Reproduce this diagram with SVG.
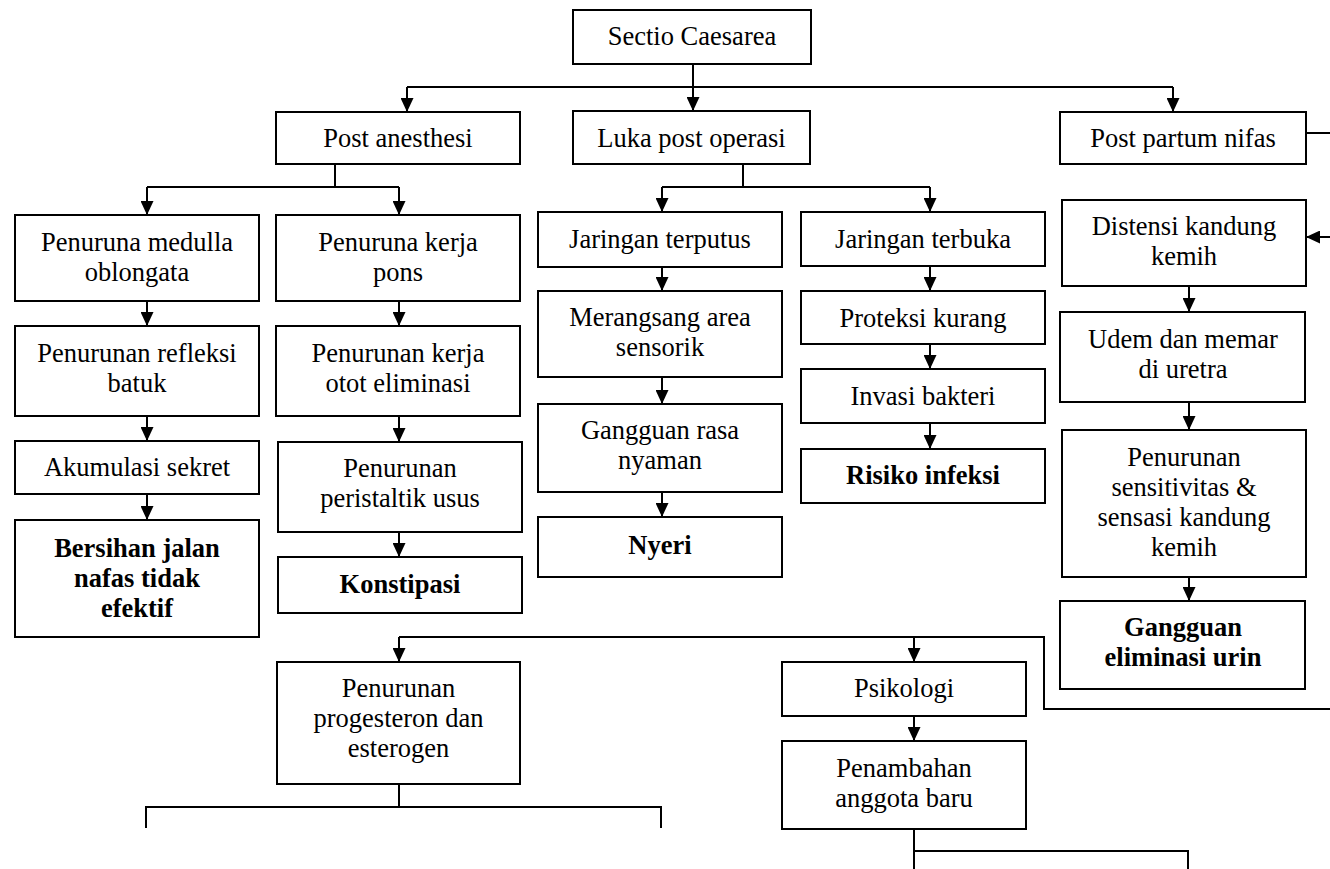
<svg xmlns="http://www.w3.org/2000/svg" width="1330" height="869" viewBox="0 0 1330 869">
<style>
.b{fill:#fff;stroke:#000;stroke-width:2}
.t{font-family:'Liberation Serif','DejaVu Serif',serif;font-size:26.5px;fill:#000;text-anchor:middle}
.bd{font-weight:bold}
.c{fill:none;stroke:#000;stroke-width:2}
</style>
<defs>
<marker id="ar" viewBox="0 0 14 13" refX="14" refY="6.5" markerWidth="14" markerHeight="13" markerUnits="userSpaceOnUse" orient="auto">
<path d="M0,0 L14,6.5 L0,13 z" fill="#000"/>
</marker>
</defs>
<rect width="1330" height="869" fill="#fff"/>
<g id="connectors">
<path class="c" d="M693,64 V87"/>
<path class="c" d="M407,87 H1173"/>
<path class="c" d="M407,87 V112" marker-end="url(#ar)"/>
<path class="c" d="M693,87 V111" marker-end="url(#ar)"/>
<path class="c" d="M1173,87 V112" marker-end="url(#ar)"/>
<path class="c" d="M335,164 V187 M147,187 H399"/>
<path class="c" d="M147,187 V215" marker-end="url(#ar)"/>
<path class="c" d="M399,187 V215" marker-end="url(#ar)"/>
<path class="c" d="M743,164 V187 M662,187 H930"/>
<path class="c" d="M662,187 V212" marker-end="url(#ar)"/>
<path class="c" d="M930,187 V212" marker-end="url(#ar)"/>
<path class="c" d="M147,301 V326" marker-end="url(#ar)"/>
<path class="c" d="M147,416 V441" marker-end="url(#ar)"/>
<path class="c" d="M147,494 V520" marker-end="url(#ar)"/>
<path class="c" d="M399,301 V326" marker-end="url(#ar)"/>
<path class="c" d="M399,416 V442" marker-end="url(#ar)"/>
<path class="c" d="M399,532 V557" marker-end="url(#ar)"/>
<path class="c" d="M662,267 V291" marker-end="url(#ar)"/>
<path class="c" d="M662,377 V404" marker-end="url(#ar)"/>
<path class="c" d="M662,492 V517" marker-end="url(#ar)"/>
<path class="c" d="M930,266 V291" marker-end="url(#ar)"/>
<path class="c" d="M930,344 V369" marker-end="url(#ar)"/>
<path class="c" d="M930,423 V449" marker-end="url(#ar)"/>
<path class="c" d="M1306,133 H1330"/>
<path class="c" d="M1330,237 H1306" marker-end="url(#ar)"/>
<path class="c" d="M1189,286 V312" marker-end="url(#ar)"/>
<path class="c" d="M1189,402 V430" marker-end="url(#ar)"/>
<path class="c" d="M1189,577 V601" marker-end="url(#ar)"/>
<path class="c" d="M1330,709 H1044 V637 H399"/>
<path class="c" d="M399,637 V662" marker-end="url(#ar)"/>
<path class="c" d="M914,637 V662" marker-end="url(#ar)"/>
<path class="c" d="M914,716 V741" marker-end="url(#ar)"/>
<path class="c" d="M399,784 V807 M146,828 V807 H661 V828"/>
<path class="c" d="M914,829 V869 M914,851 H1188 V869"/>
</g>
<g id="n-sectio"><rect class="b" x="573" y="10" width="238" height="54"/><text class="t" x="692" y="45">Sectio Caesarea</text></g>
<g id="n-postanest"><rect class="b" x="276" y="112" width="244" height="52"/><text class="t" x="398" y="147">Post anesthesi</text></g>
<g id="n-luka"><rect class="b" x="573" y="111" width="237" height="53"/><text class="t" x="691.5" y="147">Luka post operasi</text></g>
<g id="n-postpartum"><rect class="b" x="1060" y="112" width="246" height="52"/><text class="t" x="1183" y="147">Post partum nifas</text></g>
<g id="n-medulla"><rect class="b" x="15" y="215" width="244" height="86"/><text class="t" x="137" y="251">Penuruna medulla</text><text class="t" x="137" y="281">oblongata</text></g>
<g id="n-refleksi"><rect class="b" x="15" y="326" width="244" height="90"/><text class="t" x="137" y="362">Penurunan refleksi</text><text class="t" x="137" y="392">batuk</text></g>
<g id="n-akumulasi"><rect class="b" x="15" y="441" width="244" height="53"/><text class="t" x="137" y="476">Akumulasi sekret</text></g>
<g id="n-bersihan"><rect class="b" x="15" y="520" width="244" height="117"/><text class="t bd" x="137" y="557">Bersihan jalan</text><text class="t bd" x="137" y="587">nafas tidak</text><text class="t bd" x="137" y="617">efektif</text></g>
<g id="n-pons"><rect class="b" x="276" y="215" width="244" height="86"/><text class="t" x="398" y="251">Penuruna kerja</text><text class="t" x="398" y="281">pons</text></g>
<g id="n-otot"><rect class="b" x="276" y="326" width="244" height="90"/><text class="t" x="398" y="362">Penurunan kerja</text><text class="t" x="398" y="392">otot eliminasi</text></g>
<g id="n-peristaltik"><rect class="b" x="278" y="442" width="244" height="90"/><text class="t" x="400" y="477">Penurunan</text><text class="t" x="400" y="507">peristaltik usus</text></g>
<g id="n-konstipasi"><rect class="b" x="278" y="557" width="244" height="56"/><text class="t bd" x="400" y="593">Konstipasi</text></g>
<g id="n-terputus"><rect class="b" x="538" y="212" width="244" height="55"/><text class="t" x="660" y="248">Jaringan terputus</text></g>
<g id="n-merangsang"><rect class="b" x="538" y="291" width="244" height="86"/><text class="t" x="660" y="326">Merangsang area</text><text class="t" x="660" y="356">sensorik</text></g>
<g id="n-rasanyaman"><rect class="b" x="538" y="404" width="244" height="88"/><text class="t" x="660" y="439">Gangguan rasa</text><text class="t" x="660" y="469">nyaman</text></g>
<g id="n-nyeri"><rect class="b" x="538" y="517" width="244" height="60"/><text class="t bd" x="660" y="554">Nyeri</text></g>
<g id="n-terbuka"><rect class="b" x="801" y="212" width="244" height="54"/><text class="t" x="923" y="248">Jaringan terbuka</text></g>
<g id="n-proteksi"><rect class="b" x="801" y="291" width="244" height="53"/><text class="t" x="923" y="327">Proteksi kurang</text></g>
<g id="n-invasi"><rect class="b" x="801" y="369" width="244" height="54"/><text class="t" x="923" y="405">Invasi bakteri</text></g>
<g id="n-risiko"><rect class="b" x="801" y="449" width="244" height="54"/><text class="t bd" x="923" y="484">Risiko infeksi</text></g>
<g id="n-distensi"><rect class="b" x="1062" y="200" width="244" height="86"/><text class="t" x="1184" y="235">Distensi kandung</text><text class="t" x="1184" y="265">kemih</text></g>
<g id="n-udem"><rect class="b" x="1060" y="312" width="245" height="90"/><text class="t" x="1183" y="348">Udem dan memar</text><text class="t" x="1183" y="378">di uretra</text></g>
<g id="n-sensitivitas"><rect class="b" x="1062" y="430" width="244" height="147"/><text class="t" x="1184" y="466">Penurunan</text><text class="t" x="1184" y="496">sensitivitas &amp;</text><text class="t" x="1184" y="526">sensasi kandung</text><text class="t" x="1184" y="556">kemih</text></g>
<g id="n-eliminasi"><rect class="b" x="1060" y="601" width="245" height="88"/><text class="t bd" x="1183" y="636">Gangguan</text><text class="t bd" x="1183" y="666">eliminasi urin</text></g>
<g id="n-progesteron"><rect class="b" x="277" y="662" width="243" height="122"/><text class="t" x="398.5" y="697">Penurunan</text><text class="t" x="398.5" y="727">progesteron dan</text><text class="t" x="398.5" y="757">esterogen</text></g>
<g id="n-psikologi"><rect class="b" x="782" y="662" width="244" height="54"/><text class="t" x="904" y="697">Psikologi</text></g>
<g id="n-penambahan"><rect class="b" x="782" y="741" width="244" height="88"/><text class="t" x="904" y="777">Penambahan</text><text class="t" x="904" y="807">anggota baru</text></g>
</svg>
